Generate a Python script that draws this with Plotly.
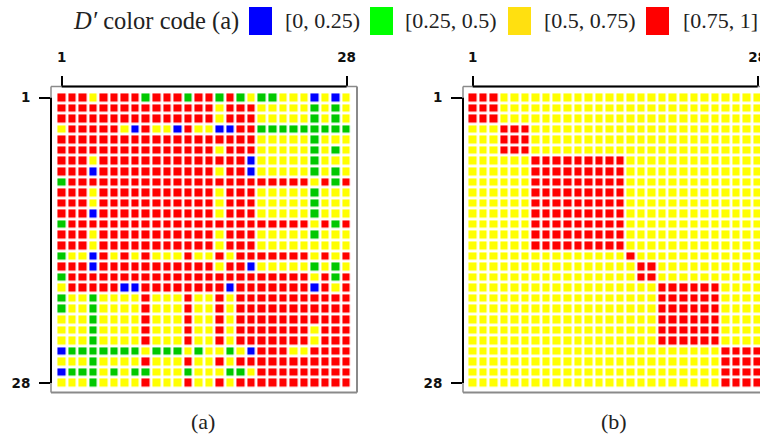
import plotly.graph_objects as go

W, H = 760, 436

LEVELS = {"B": 0, "G": 1, "Y": 2, "R": 3}

rows_a = [
    "RRRYRRRRGRRRGRRGRGYGGYYYBYBY",
    "RRRRRRRRRRRRRRRYRRRYYYYYGYGY",
    "RRRRRRRRRRRRRRRYRRRYYYYYGYGY",
    "YRRRRRYBRYYBRYYBBRRGGGGGGGGG",
    "RRRRRRRRRRRRRRRRRRRYYYYYGYYY",
    "RRRRRRRRRRRRRRRYRRRYYYYYGYGY",
    "RRRYRRRRRRRRRRRRRRBYYYYYGYYY",
    "RRRBRRRRRRRRRRRYRRBYYYYYGYGY",
    "GRRRRRRRRRRRRRRRRRRRRRRRYRGR",
    "RRRYRRRRRRRRRRRYRRRYYYYYGYYY",
    "RRRYRRRRRRRRRRRYRRRYYYYYGYYY",
    "RRRBRRRRRRRRRRRYRRRYYYYYGYYY",
    "GRRRRRRRRRRRRRRRRRRRRRRRYRGR",
    "RRRYRRRRRRRRRRRYRRRYYYYYGYYY",
    "RRRYRRRRRRRRRRRYRRRYYYYYYYYY",
    "GYYBRYRYRYYYRYYRYRRRRRRRYRYR",
    "RRRBRRRRRRRRRRRYRRBYYYYYGYGY",
    "GRRRRRRRRRRRRRRRRRRRRRRRYRGR",
    "YRRRRRBBRRRRRRRRBRRRRRRRBRYR",
    "GYYGYYYYRYYYRYYRYRRRRRRRRRRR",
    "GYYGYYYYRYYYRYYRYRRRRRRRRRRR",
    "YYYGYYYYRYYYRYYRYRRRRRRRRRRR",
    "YYYGYYYYRYYYRYYRYRRRRRRRYRRR",
    "YYYGYYYYRYYYRYYRYRRRRRRRYRRR",
    "BGGGGGGGYGGGYGYYGYBRRRYYRRRR",
    "YYYGYYYYRYYYRYYRYRRRRRRRRRRR",
    "BGGGYGYGGYYYGYYYGGYRRRRRRRRR",
    "YYYGYYYYRYYYRYYRYRRRRRRRRRRR",
]

rows_b = [
    "RRRYYYYYYYYYYYYYYYYYYYYYYYYY",
    "RRRYYYYYYYYYYYYYYYYYYYYYYYYY",
    "RRRYYYYYYYYYYYYYYYYYYYYYYYYY",
    "YYYRRRYYYYYYYYYYYYYYYYYYYYYY",
    "YYYRRRYYYYYYYYYYYYYYYYYYYYYY",
    "YYYRRRYYYYYYYYYYYYYYYYYYYYYY",
    "YYYYYYRRRRRRRRRYYYYYYYYYYYYY",
    "YYYYYYRRRRRRRRRYYYYYYYYYYYYY",
    "YYYYYYRRRRRRRRRYYYYYYYYYYYYY",
    "YYYYYYRRRRRRRRRYYYYYYYYYYYYY",
    "YYYYYYRRRRRRRRRYYYYYYYYYYYYY",
    "YYYYYYRRRRRRRRRYYYYYYYYYYYYY",
    "YYYYYYRRRRRRRRRYYYYYYYYYYYYY",
    "YYYYYYRRRRRRRRRYYYYYYYYYYYYY",
    "YYYYYYRRRRRRRRRYYYYYYYYYYYYY",
    "YYYYYYYYYYYYYYYRYYYYYYYYYYYY",
    "YYYYYYYYYYYYYYYYRRYYYYYYYYYY",
    "YYYYYYYYYYYYYYYYRRYYYYYYYYYY",
    "YYYYYYYYYYYYYYYYYYRRRRRRYYYY",
    "YYYYYYYYYYYYYYYYYYRRRRRRYYYY",
    "YYYYYYYYYYYYYYYYYYRRRRRRYYYY",
    "YYYYYYYYYYYYYYYYYYRRRRRRYYYY",
    "YYYYYYYYYYYYYYYYYYRRRRRRYYYY",
    "YYYYYYYYYYYYYYYYYYRRRRRRYYYY",
    "YYYYYYYYYYYYYYYYYYYYYYYYRRRR",
    "YYYYYYYYYYYYYYYYYYYYYYYYRRRR",
    "YYYYYYYYYYYYYYYYYYYYYYYYRRRR",
    "YYYYYYYYYYYYYYYYYYYYYYYYRRRR",
]

legend_labels = ["[0, 0.25)", "[0.25, 0.5)", "[0.5, 0.75)", "[0.75, 1]"]
legend_colors = ["#0000ff", "#00ff00", "#ffe010", "#ff0000"]
cell_colors = ["#0000ff", "#00c800", "#ffff00", "#ff0000"]
tick_vals = [1, 28]
tick_text = ["1", "28"]
captions = ["(a)", "(b)"]


def px(x):
    return x / W


def py(y):
    return 1 - y / H


def to_z(rows):
    return [[LEVELS[c] for c in row] for row in rows]


scale = []
for i, c in enumerate(cell_colors):
    scale += [[i / 4, c], [(i + 1) / 4, c]]

idx = list(range(1, 29))
fig = go.Figure()
for n, rows in enumerate([rows_a, rows_b]):
    fig.add_trace(go.Heatmap(
        z=to_z(rows), x=idx, y=idx, xaxis=f"x{n + 1 if n else ''}", yaxis=f"y{n + 1 if n else ''}",
        zmin=-0.5, zmax=3.5, colorscale=scale, showscale=False, xgap=2.8, ygap=2.8,
        hoverinfo="skip",
    ))

tick_font = dict(family="DejaVu Sans", size=13.5, color="#111111", weight="bold")
common_x = dict(
    side="top", tickmode="array", tickvals=tick_vals, ticktext=tick_text, ticks="outside",
    ticklen=10, tickwidth=2, tickcolor="#000000", tickfont=tick_font, showgrid=False,
    zeroline=False, showline=False, ticklabelstandoff=8, ticklabeloverflow="allow",
    fixedrange=True,
)
common_y = dict(
    tickmode="array", tickvals=tick_vals, ticktext=tick_text, ticks="outside",
    ticklen=11, tickwidth=2, tickcolor="#000000", tickfont=tick_font, showgrid=False,
    zeroline=False, showline=False, ticklabelstandoff=6, fixedrange=True,
)

top, bottom = 86.5, 392.5
r0 = 1 - (97.7 - top) / 10.57
r1 = 1 + (bottom - 97.7) / 10.57

L1, R1 = 51.0, 357.0
L2, R2 = 463.0, 760.0
layout = dict(
    width=W, height=H, margin=dict(l=0, r=0, t=0, b=0, pad=0, autoexpand=False), paper_bgcolor="white",
    plot_bgcolor="white", showlegend=False, font=dict(family="Liberation Serif", color="#222222"),
    xaxis=dict(domain=[px(L1), px(R1)], anchor="y",
               range=[1 - (61.7 - L1) / 10.55, 1 + (R1 - 61.7) / 10.55], **common_x),
    yaxis=dict(domain=[py(bottom), py(top)], anchor="x", range=[r1, r0], **common_y),
    xaxis2=dict(domain=[px(L2), px(R2)], anchor="y2",
                range=[1 - (472.7 - L2) / 10.55, 1 + (R2 - 472.7) / 10.55], **common_x),
    yaxis2=dict(domain=[py(bottom), py(top)], anchor="x2", range=[r1, r0], **common_y),
)

shapes = []
FRAME = "#8a8a8a"
for xa, ya, right_visible in [("x", "y", True), ("x2", "y2", False)]:
    xd, yd = f"{xa} domain", f"{ya} domain"
    shapes.append(dict(type="line", xref=xd, yref=yd, x0=0, x1=1, y0=1, y1=1,
                       line=dict(color=FRAME, width=1.5)))
    shapes.append(dict(type="line", xref=xd, yref=yd, x0=0, x1=0, y0=0, y1=1,
                       line=dict(color=FRAME, width=1.5)))
    shapes.append(dict(type="line", xref=xd, yref=yd, x0=0, x1=1, y0=0, y1=0,
                       line=dict(color=FRAME, width=2.2)))
    if right_visible:
        shapes.append(dict(type="line", xref=xd, yref=yd, x0=1, x1=1, y0=0, y1=1,
                           line=dict(color=FRAME, width=2)))
    shapes.append(dict(type="line", xref=xa, yref=yd, x0=tick_vals[0], x1=tick_vals[1], y0=1, y1=1,
                       line=dict(color="#000000", width=2)))
    shapes.append(dict(type="line", xref=xd, yref=ya, x0=0, x1=0, y0=tick_vals[0], y1=tick_vals[1],
                       line=dict(color="#000000", width=2)))

annotations = [dict(text="<i>D′</i> color code (a)", x=px(71), y=py(20.5), xref="paper", yref="paper",
                    xanchor="left", yanchor="middle", showarrow=False,
                    font=dict(family="Liberation Serif", size=24.5, color="#222222"))]
swatch_x = [249, 370, 508, 646]
label_x = [283, 403, 542, 681]
for color, label, sx, lx in zip(legend_colors, legend_labels, swatch_x, label_x):
    shapes.append(dict(type="rect", xref="paper", yref="paper", x0=px(sx), x1=px(sx + 23),
                       y0=py(35), y1=py(7), fillcolor=color, line=dict(width=0)))
    annotations.append(dict(text=label, x=px(lx), y=py(20.5), xref="paper", yref="paper",
                            xanchor="left", yanchor="middle", showarrow=False,
                            font=dict(family="Liberation Serif", size=22, color="#222222")))
for cap, cx in zip(captions, [203, 614]):
    annotations.append(dict(text=cap, x=px(cx), y=py(421), xref="paper", yref="paper",
                            xanchor="center", yanchor="middle", showarrow=False,
                            font=dict(family="Liberation Serif", size=22, color="#222222")))

fig.update_layout(**layout, shapes=shapes, annotations=annotations)
fig.write_html("out.html", config={"displayModeBar": False},
               post_script="document.body.style.margin='0';document.documentElement.style.overflow='hidden';")
